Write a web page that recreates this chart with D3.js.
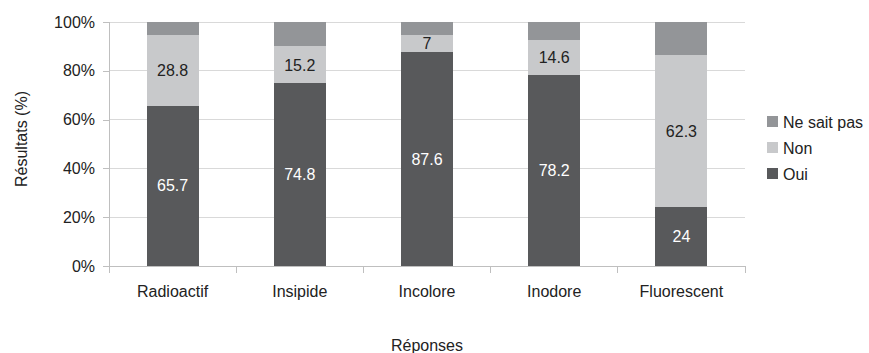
<!DOCTYPE html>
<html>
<head>
<meta charset="utf-8">
<script src="https://cdn.jsdelivr.net/npm/d3@7"></script>
<style>
  body { margin: 0; background: #fff; }
  svg { display: block; }
  svg text { font-family: "Liberation Sans", Arial, sans-serif; }
</style>
</head>
<body>
<svg id="chart" width="869" height="353"></svg>
<script>
// Survey answers per property
const categories = ["Radioactif", "Insipide", "Incolore", "Inodore", "Fluorescent"];
const oui = [65.7, 74.8, 87.6, 78.2, 24];
const non = [28.8, 15.2, 7, 14.6, 62.3];
const neSaitPas = [5.5, 10, 5.4, 7.2, 13.7];
const seriesNames = ["Oui", "Non", "Ne sait pas"];
const yTicks = [0, 20, 40, 60, 80, 100];

const FONT = "Liberation Sans, Arial, sans-serif";
const colors = { "Oui": "#58595b", "Non": "#c8c9cb", "Ne sait pas": "#939598" };
const labelColors = { "Oui": "#ffffff", "Non": "#222222" };

const rows = categories.map((c, i) => ({
  cat: c, "Oui": oui[i], "Non": non[i], "Ne sait pas": neSaitPas[i]
}));

const svg = d3.select("#chart");
const margin = { left: 109, right: 124, top: 22, bottom: 87 };
const W = 869, H = 353;

const x = d3.scaleBand().domain(categories)
  .range([margin.left, W - margin.right]).paddingInner(0.59).paddingOuter(0.295);
const xOuter = d3.scaleBand().domain(categories)
  .range([margin.left, W - margin.right]);
const y = d3.scaleLinear().domain([0, 100]).range([H - margin.bottom, margin.top]);

// Horizontal gridlines
svg.append("g").selectAll("line").data(yTicks).join("line")
  .attr("x1", margin.left).attr("x2", W - margin.right)
  .attr("y1", d => y(d)).attr("y2", d => y(d))
  .attr("stroke", "#d9d9d9").attr("stroke-width", 1)
  .attr("shape-rendering", "crispEdges");

// Y axis
const yAxis = svg.append("g")
  .attr("transform", `translate(${margin.left},0)`)
  .call(d3.axisLeft(y).tickValues(yTicks).tickFormat(d => d + "%").tickSize(6).tickPadding(8))
  .attr("font-family", FONT);
yAxis.select(".domain").attr("stroke", "#bfbfbf").attr("shape-rendering", "crispEdges");
yAxis.selectAll(".tick line").attr("stroke", "#bfbfbf").attr("shape-rendering", "crispEdges");
yAxis.selectAll(".tick text").attr("font-size", 16).attr("fill", "#222");

// Stacked bars
const stack = d3.stack().keys(seriesNames)(rows);
const groups = svg.append("g").selectAll("g").data(stack).join("g")
  .attr("fill", d => colors[d.key]);
groups.selectAll("rect").data(d => d).join("rect")
  .attr("x", d => x(d.data.cat))
  .attr("width", x.bandwidth())
  .attr("y", d => y(d[1]))
  .attr("height", d => y(d[0]) - y(d[1]))
  .attr("shape-rendering", "crispEdges");

// Value labels for Oui and Non
stack.filter(s => s.key !== "Ne sait pas").forEach(s => {
  svg.append("g").selectAll("text").data(s).join("text")
    .attr("x", d => x(d.data.cat) + x.bandwidth() / 2)
    .attr("y", d => (y(d[0]) + y(d[1])) / 2)
    .attr("dy", "0.35em")
    .attr("text-anchor", "middle")
    .attr("font-size", 16)
    .attr("fill", labelColors[s.key])
    .text(d => d.data[s.key]);
});

// X axis
const baseY = y(0);
svg.append("line")
  .attr("x1", margin.left).attr("x2", W - margin.right)
  .attr("y1", baseY).attr("y2", baseY)
  .attr("stroke", "#bfbfbf").attr("shape-rendering", "crispEdges");
const xTickPos = categories.map(c => xOuter(c)).concat([W - margin.right]);
svg.append("g").selectAll("line").data(xTickPos).join("line")
  .attr("x1", d => d).attr("x2", d => d)
  .attr("y1", baseY).attr("y2", baseY + 7)
  .attr("stroke", "#bfbfbf").attr("shape-rendering", "crispEdges");
svg.append("g").selectAll("text").data(categories).join("text")
  .attr("x", d => xOuter(d) + xOuter.bandwidth() / 2)
  .attr("y", baseY + 31)
  .attr("text-anchor", "middle")
  .attr("font-size", 16)
  .attr("fill", "#222")
  .text(d => d);

// Axis titles
svg.append("text")
  .attr("x", (margin.left + W - margin.right) / 2)
  .attr("y", 351)
  .attr("text-anchor", "middle")
  .attr("font-size", 16)
  .attr("fill", "#222")
  .text("Réponses");
svg.append("text")
  .attr("transform", `translate(27,139) rotate(-90)`)
  .attr("text-anchor", "middle")
  .attr("font-size", 16)
  .attr("fill", "#222")
  .text("Résultats (%)");

// Legend
const legendOrder = ["Ne sait pas", "Non", "Oui"];
const lg = svg.append("g").selectAll("g").data(legendOrder).join("g")
  .attr("transform", (d, i) => `translate(767,${122 + i * 26})`);
lg.append("rect").attr("x", 0).attr("y", -6).attr("width", 11).attr("height", 11)
  .attr("fill", d => colors[d]);
lg.append("text").attr("x", 16).attr("y", 0).attr("dy", "0.35em")
  .attr("font-size", 16).attr("fill", "#222").text(d => d);
</script>
</body>
</html>
